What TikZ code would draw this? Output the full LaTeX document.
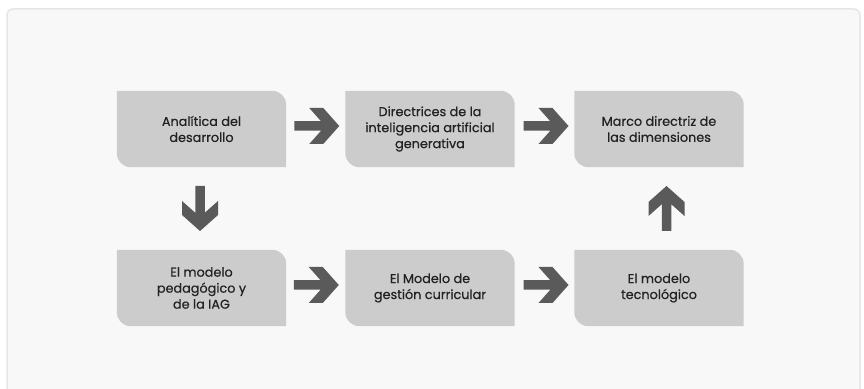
\documentclass[tikz,border=0pt]{standalone}
\usepackage{fontspec}
\setmainfont{Poppins}[FakeBold=0.6]
\usetikzlibrary{calc,backgrounds}
\definecolor{panelfill}{HTML}{F8F8F8}
\definecolor{panelline}{HTML}{E6E6E6}
\definecolor{boxfill}{HTML}{CCCCCC}
\definecolor{arrowfill}{HTML}{5A5A5A}
\definecolor{txt}{HTML}{222222}
\tikzset{
  x=1pt,y=1pt,
  stepbox/.style={minimum width=169pt,minimum height=76pt,inner sep=0pt,
    align=center,text=txt,font=\fontsize{12.8}{16}\selectfont},
  blockarrow/.pic={
    \fill[arrowfill] (-22.5,4.75) -- (4.28,4.75) -- (-7.5,18) -- (6.5,18) -- (22.5,0)
      -- (6.5,-18) -- (-7.5,-18) -- (4.28,-4.75) -- (-22.5,-4.75) -- cycle;
  }
}
\newcommand\leafbox[1]{%
  \fill[boxfill] (#1.north west) -- ([xshift=-14pt]#1.north east)
    arc[start angle=90,end angle=0,radius=14pt] -- (#1.south east)
    -- ([xshift=14pt]#1.south west)
    arc[start angle=270,end angle=180,radius=14pt] -- cycle;}
\begin{document}
\begin{tikzpicture}
\useasboundingbox (0,0) rectangle (864,388);
\node[stepbox] (b1) at (201.5,259) {Analítica del\\desarrollo};
\node[stepbox] (b2) at (430,259) {Directrices de la\\inteligencia artificial\\generativa};
\node[stepbox] (b3) at (659,259) {Marco directriz de\\las dimensiones};
\node[stepbox] (b4) at (201.5,100) {El modelo\\pedagógico y\\de la IAG};
\node[stepbox] (b5) at (430,100) {El Modelo de\\gestión curricular};
\node[stepbox] (b6) at (659,100) {El modelo\\tecnológico};
\begin{pgfonlayer}{background}
  \fill[white] (0,0) rectangle (864,388);
  \filldraw[fill=panelfill,draw=panelline,line width=1.5pt,rounded corners=6pt]
    (7,-10) rectangle (860,379);
  \leafbox{b1}\leafbox{b2}\leafbox{b3}\leafbox{b4}\leafbox{b5}\leafbox{b6}
\end{pgfonlayer}
\pic at ($(b1.east)!0.5!(b2.west)+(1,3)$) {blockarrow};
\pic at ($(b2.east)!0.5!(b3.west)+(1.5,3)$) {blockarrow};
\pic at ($(b4.east)!0.5!(b5.west)+(0.5,3)$) {blockarrow};
\pic at ($(b5.east)!0.5!(b6.west)+(1.5,3)$) {blockarrow};
\pic[rotate=-90] at ($(b1.south)!0.5!(b4.north)+(-1.5,0)$) {blockarrow};
\pic[rotate=90] at ($(b6.north)!0.5!(b3.south)+(7.5,0)$) {blockarrow};
\end{tikzpicture}
\end{document}
